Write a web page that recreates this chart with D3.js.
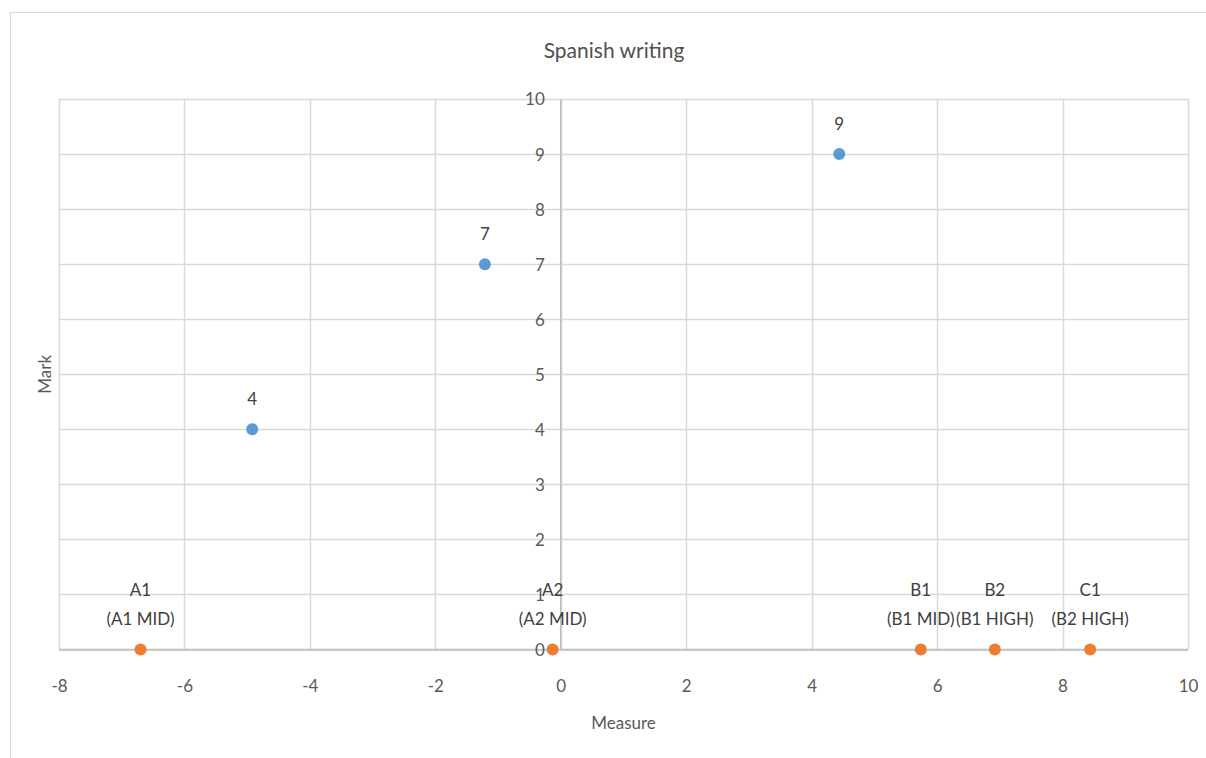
<!DOCTYPE html>
<html>
<head>
<meta charset="utf-8">
<script src="https://cdn.jsdelivr.net/npm/d3@7"></script>
<style>
  html, body { margin: 0; padding: 0; background: #fff; }
  svg { display: block; font-family: Lato, "Open Sans", sans-serif; }
</style>
</head>
<body>
<svg id="chart" width="1206" height="758"></svg>
<script>
// Series 1: measure / mark pairs
const markX = [-4.92, -1.21, 4.44];
const markY = [4, 7, 9];
const markLabels = ["4", "7", "9"];

// Series 2: level reference points on the zero line
const levelX = [-6.70, -0.13, 5.74, 6.92, 8.44];
const levelY = [0, 0, 0, 0, 0];
const levelNames = ["A1", "A2", "B1", "B2", "C1"];
const levelBands = ["(A1 MID)", "(A2 MID)", "(B1 MID)", "(B1 HIGH)", "(B2 HIGH)"];

const xTicks = [-8, -6, -4, -2, 0, 2, 4, 6, 8, 10];
const yTicks = [0, 1, 2, 3, 4, 5, 6, 7, 8, 9, 10];

const svg = d3.select("#chart");
const plot = { left: 59, right: 1188, top: 99, bottom: 649.5 };

const x = d3.scaleLinear().domain([-8, 10]).range([plot.left, plot.right]);
const y = d3.scaleLinear().domain([0, 10]).range([plot.bottom, plot.top]);

// Chart frame
svg.append("rect")
  .attr("x", 10.5).attr("y", 12.5)
  .attr("width", 1220).attr("height", 760)
  .attr("fill", "none").attr("stroke", "#d9d9d9").attr("stroke-width", 1);

// Title
svg.append("text")
  .attr("x", 614).attr("y", 58)
  .attr("text-anchor", "middle")
  .attr("font-size", 21).attr("fill", "#505050")
  .text("Spanish writing");

// Gridlines
const grid = svg.append("g");
grid.selectAll("line.v").data(xTicks).join("line")
  .attr("x1", d => Math.round(x(d)) + 0.5).attr("x2", d => Math.round(x(d)) + 0.5)
  .attr("y1", plot.top).attr("y2", plot.bottom)
  .attr("stroke", "#d9d9d9").attr("stroke-width", 1.5);
grid.selectAll("line.h").data(yTicks).join("line")
  .attr("x1", plot.left).attr("x2", plot.right)
  .attr("y1", d => Math.round(y(d)) + 0.5).attr("y2", d => Math.round(y(d)) + 0.5)
  .attr("stroke", "#d9d9d9").attr("stroke-width", 1.5);

// Axis lines crossing at the origin
svg.append("line")
  .attr("x1", plot.left).attr("x2", plot.right)
  .attr("y1", y(0)).attr("y2", y(0))
  .attr("stroke", "#bfbfbf").attr("stroke-width", 1.5);
svg.append("line")
  .attr("x1", x(0)).attr("x2", x(0))
  .attr("y1", plot.top).attr("y2", plot.bottom)
  .attr("stroke", "#bfbfbf").attr("stroke-width", 1.5);

// X axis labels below the plot (plain hyphen for negatives)
const xAxis = d3.axisBottom(x).tickValues(xTicks).tickFormat(d => String(d)).tickSize(0).tickPadding(0);
const gx = svg.append("g").attr("transform", `translate(0,${plot.bottom + 42})`).call(xAxis);
gx.select(".domain").remove();
gx.selectAll("text").attr("font-size", 17).attr("fill", "#595959")
  .attr("font-family", "Lato, 'Open Sans', sans-serif").attr("dy", 0);

// Y axis labels beside the vertical axis at x = 0
const yAxis = d3.axisLeft(y).tickValues(yTicks).tickFormat(d => String(d)).tickSize(0).tickPadding(0);
const gy = svg.append("g").attr("transform", `translate(${x(0) - 16},0)`).call(yAxis);
gy.select(".domain").remove();
gy.selectAll("text").attr("font-size", 17).attr("fill", "#595959")
  .attr("font-family", "Lato, 'Open Sans', sans-serif").attr("dy", "0.35em");

// Axis titles
svg.append("text")
  .attr("x", (plot.left + plot.right) / 2).attr("y", 729)
  .attr("text-anchor", "middle").attr("font-size", 17).attr("fill", "#595959")
  .text("Measure");
svg.append("text")
  .attr("transform", `translate(51,${(plot.top + plot.bottom) / 2}) rotate(-90)`)
  .attr("text-anchor", "middle").attr("font-size", 17).attr("fill", "#595959")
  .text("Mark");

// Mark points
const marks = markX.map((v, i) => ({ x: v, y: markY[i], label: markLabels[i] }));
svg.append("g").selectAll("circle").data(marks).join("circle")
  .attr("cx", d => x(d.x)).attr("cy", d => y(d.y)).attr("r", 6)
  .attr("fill", "#5b9bd5");
svg.append("g").selectAll("text").data(marks).join("text")
  .attr("x", d => x(d.x)).attr("y", d => y(d.y) - 24)
  .attr("text-anchor", "middle").attr("font-size", 17).attr("fill", "#404040")
  .text(d => d.label);

// Level points with two-line labels
const levels = levelX.map((v, i) => ({ x: v, y: levelY[i], name: levelNames[i], band: levelBands[i] }));
svg.append("g").selectAll("circle").data(levels).join("circle")
  .attr("cx", d => x(d.x)).attr("cy", d => y(d.y)).attr("r", 6)
  .attr("fill", "#ed7d31");
const lt = svg.append("g").selectAll("text").data(levels).join("text")
  .attr("text-anchor", "middle").attr("font-size", 17).attr("fill", "#404040");
lt.append("tspan").attr("x", d => x(d.x)).attr("y", d => y(d.y) - 54).text(d => d.name);
lt.append("tspan").attr("x", d => x(d.x)).attr("y", d => y(d.y) - 25).text(d => d.band);
</script>
</body>
</html>
